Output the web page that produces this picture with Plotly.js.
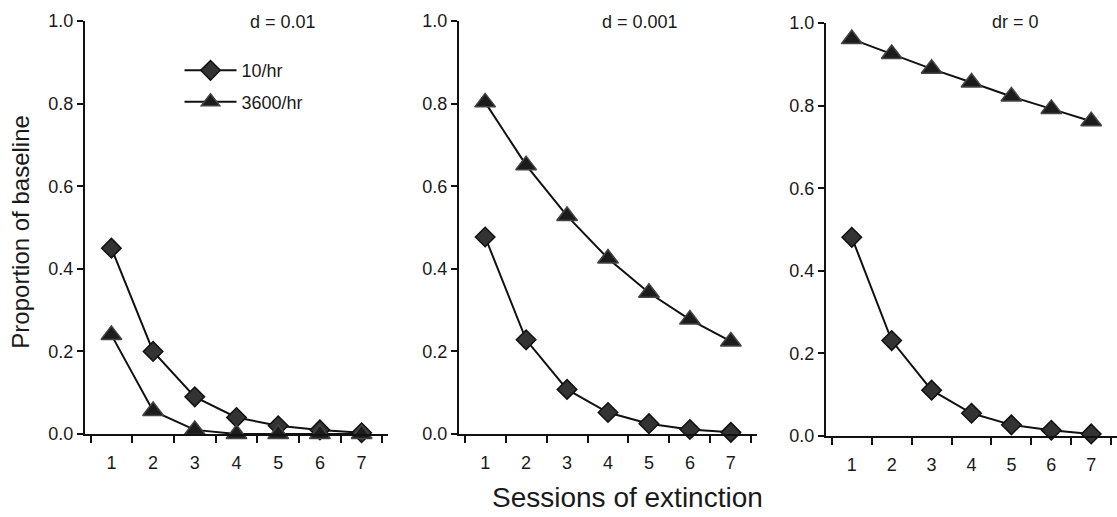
<!DOCTYPE html>
<html>
<head>
<meta charset="utf-8">
<script src="https://cdn.plot.ly/plotly-3.0.1.min.js"></script>
<style>html,body{margin:0;padding:0;background:#fff;}#chart{width:1117px;height:517px;}</style>
</head>
<body>
<div id="chart"></div>
<script>
// ---- data ----
const sessions = ["1", "2", "3", "4", "5", "6", "7"];
const seriesNames = ["10/hr", "3600/hr"];
const panelTitles = ["d = 0.01", "d = 0.001", "dr = 0"];

const d01_10hr   = [0.45, 0.20, 0.09, 0.04, 0.02, 0.01, 0.003];
const d01_3600hr = [0.24, 0.056, 0.01, 0.0, 0.0, 0.0, 0.0];

const d001_10hr   = [0.477, 0.228, 0.108, 0.052, 0.025, 0.011, 0.004];
const d001_3600hr = [0.803, 0.651, 0.528, 0.425, 0.342, 0.277, 0.224];

const dr0_10hr   = [0.481, 0.231, 0.111, 0.055, 0.027, 0.014, 0.005];
const dr0_3600hr = [0.961, 0.925, 0.889, 0.856, 0.822, 0.792, 0.762];

const yTickVals = [0, 0.2, 0.4, 0.6, 0.8, 1.0];

// ---- build ----
const FONT = "Liberation Sans, Arial, sans-serif";
const TXT = "#1a1a1a";
const panels = [
  {a: d01_10hr, b: d01_3600hr},
  {a: d001_10hr, b: d001_3600hr},
  {a: dr0_10hr, b: dr0_3600hr}
];
const traces = [];
panels.forEach((p, i) => {
  const xa = i === 0 ? "x" : "x" + (i + 1);
  const ya = i === 0 ? "y" : "y" + (i + 1);
  traces.push({
    type: "scatter", mode: "lines+markers", x: sessions, y: p.a, xaxis: xa, yaxis: ya,
    name: seriesNames[0], legendgroup: "a", showlegend: i === 0, cliponaxis: false,
    line: {color: "#111", width: 2},
    marker: {symbol: "diamond", size: 15, color: "#333", line: {color: "#111", width: 1.5}}
  });
  traces.push({
    type: "scatter", mode: "lines+markers", x: sessions, y: p.b, xaxis: xa, yaxis: ya,
    name: seriesNames[1], legendgroup: "b", showlegend: i === 0, cliponaxis: false,
    line: {color: "#111", width: 2},
    marker: {symbol: "triangle-up", size: 18, color: "#1c1c1c", line: {color: "#444", width: 1.5}}
  });
});

const xDomains = [[85/1117, 388/1117], [459/1117, 757/1117], [826/1117, 1.0]];
const yDomains = [[0.0048, 1], [0.0048, 1], [0, 0.9952]];

function xAxis(i) {
  return {
    domain: xDomains[i], type: "category", tickson: "boundaries",
    ticks: "outside", ticklen: 7, tickwidth: 2, tickcolor: "#111",
    showline: true, linewidth: 2, linecolor: "#111",
    showgrid: false, zeroline: false, fixedrange: true, automargin: false,
    ticklabelstandoff: 11,
    anchor: i === 0 ? "y" : "y" + (i + 1),
    tickfont: {family: FONT, size: 18, color: TXT}
  };
}
function yAxis(i) {
  return {
    domain: yDomains[i], range: [0, 1], tickvals: yTickVals, tickformat: ".1f",
    ticks: "outside", ticklen: 6, tickwidth: 2, tickcolor: "#111",
    showline: true, linewidth: 2, linecolor: "#111",
    showgrid: false, zeroline: false, fixedrange: true, automargin: false,
    anchor: i === 0 ? "x" : "x" + (i + 1),
    tickfont: {family: FONT, size: 18, color: TXT}
  };
}

const titleX = [0.653, 0.607, 0.65];
const annotations = panelTitles.map((t, i) => ({
  text: t, xref: (i === 0 ? "x" : "x" + (i + 1)) + " domain", yref: "paper",
  x: titleX[i], y: 0.997, xanchor: "center", yanchor: "middle", showarrow: false,
  font: {family: FONT, size: 18, color: TXT}
}));
annotations.push({
  text: "Sessions of extinction", xref: "paper", yref: "paper",
  x: 627/1117, y: -0.148, xanchor: "center", yanchor: "middle", showarrow: false,
  font: {family: FONT, size: 28, color: TXT}
});
annotations.push({
  text: "Proportion of baseline", xref: "paper", yref: "paper", textangle: -90,
  x: 21/1117, y: 0.49, xanchor: "center", yanchor: "middle", showarrow: false,
  font: {family: FONT, size: 24, color: TXT}
});

const layout = {
  width: 1117, height: 517,
  margin: {l: 0, r: 0, t: 21, b: 81, pad: 0},
  paper_bgcolor: "#fff", plot_bgcolor: "rgba(0,0,0,0)",
  font: {family: FONT, color: TXT},
  showlegend: true,
  legend: {
    x: 0.1607, y: 0.925, xanchor: "left", yanchor: "top",
    traceorder: "grouped", tracegroupgap: 5,
    bgcolor: "rgba(0,0,0,0)", borderwidth: 0, itemwidth: 52,
    font: {family: FONT, size: 18, color: TXT}
  },
  annotations: annotations,
  xaxis: xAxis(0), yaxis: yAxis(0),
  xaxis2: xAxis(1), yaxis2: yAxis(1),
  xaxis3: xAxis(2), yaxis3: yAxis(2)
};

Plotly.newPlot("chart", traces, layout, {displayModeBar: false, staticPlot: true});
</script>
</body>
</html>
